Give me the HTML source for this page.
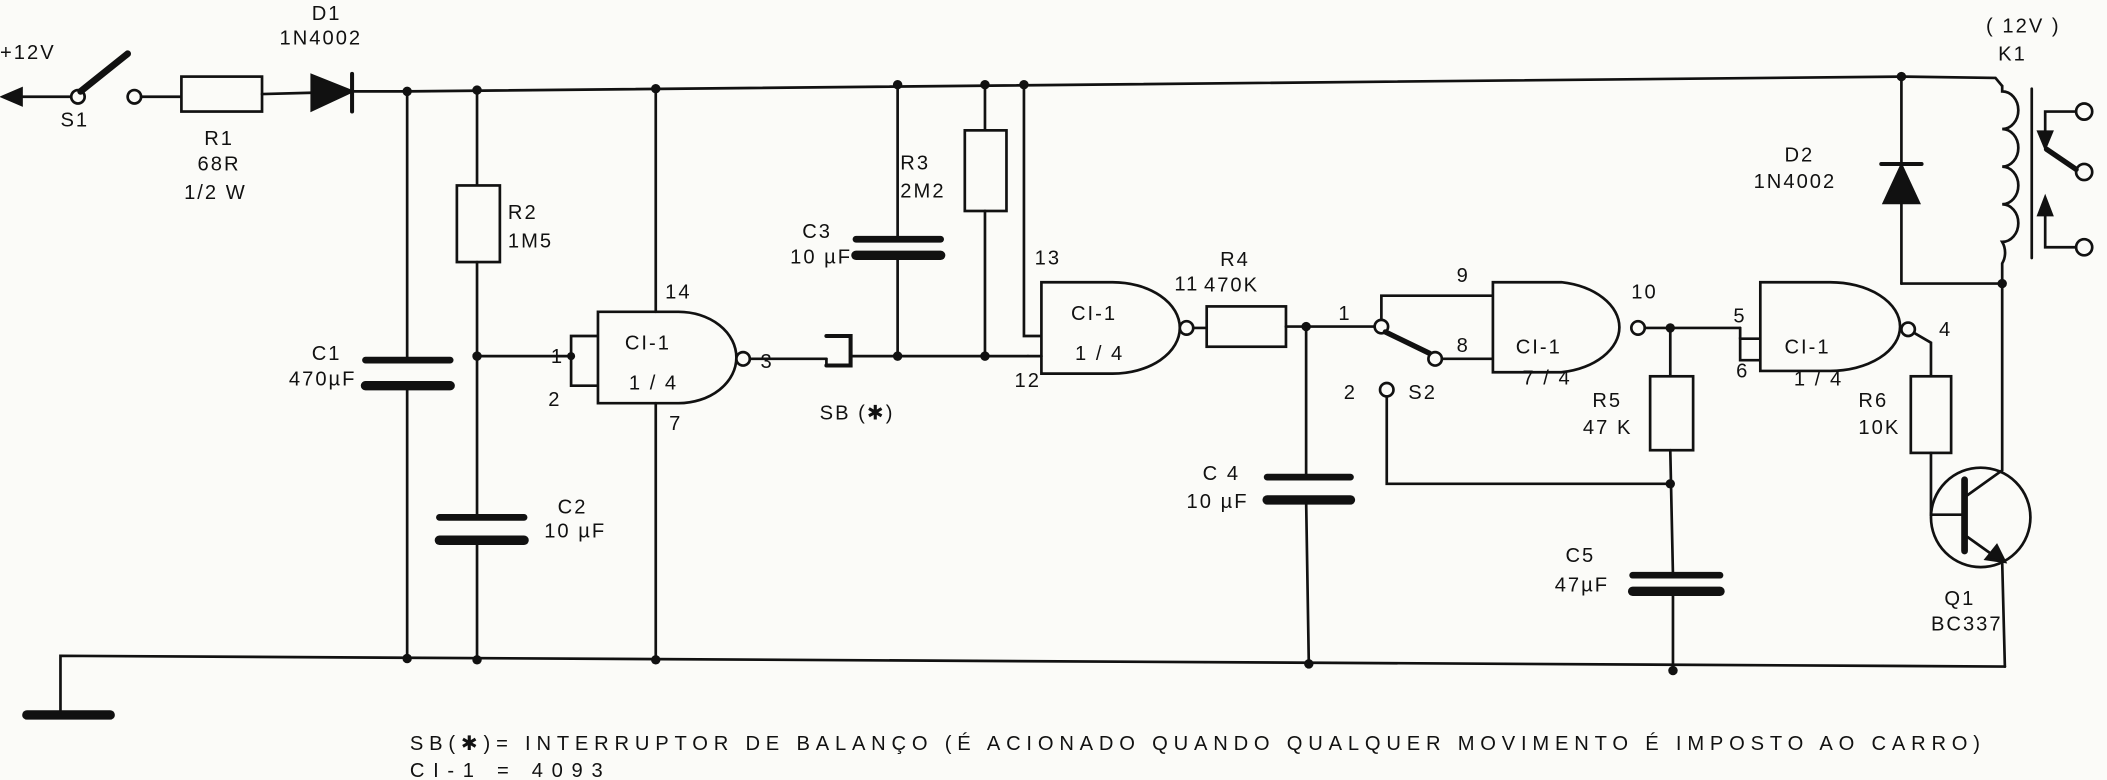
<!DOCTYPE html>
<html><head><meta charset="utf-8"><style>
html,body{margin:0;padding:0;background:#fbfbf8;}
svg{display:block}
text{font-family:"Liberation Sans",sans-serif;fill:#111;font-size:15px;letter-spacing:1.5px}
</style></head><body>
<svg width="2107" height="780" viewBox="0 0 1568 580.4" preserveAspectRatio="none" xmlns="http://www.w3.org/2000/svg">
<rect width="1568" height="581" fill="#fbfbf8"/>
<g stroke="#111" stroke-width="2" fill="none" stroke-linecap="round">
<polyline points="262,68 303,68 1415,57 1485,58 1490,64"/>
<line x1="8" y1="72" x2="54" y2="72"/>
<polygon points="2,72 16,66 16,78" fill="#111"/>
<circle cx="58" cy="72" r="5" fill="#fbfbf8"/>
<line x1="60" y1="68" x2="95" y2="40" stroke-width="5"/>
<circle cx="100" cy="72" r="5" fill="#fbfbf8"/>
<line x1="105" y1="72" x2="135" y2="72"/>
<rect x="135" y="57" width="60" height="26" fill="#fbfbf8"/>
<line x1="195" y1="70" x2="232" y2="69"/>
<polygon points="232,56 262,68 232,82" fill="#111"/>
<line x1="262" y1="55" x2="262" y2="83" stroke-width="3"/>
<line x1="303" y1="68" x2="303" y2="268"/><line x1="303" y1="288" x2="303" y2="490"/>
<line x1="272" y1="268" x2="335" y2="268" stroke-width="5"/>
<line x1="272" y1="287" x2="335" y2="287" stroke-width="7"/>
<line x1="355" y1="67" x2="355" y2="138"/>
<rect x="340" y="138" width="32" height="57" fill="#fbfbf8"/>
<line x1="355" y1="195" x2="355" y2="385"/><line x1="355" y1="402" x2="355" y2="491"/>
<line x1="327" y1="385" x2="390" y2="385" stroke-width="5"/>
<line x1="327" y1="402" x2="390" y2="402" stroke-width="7"/>
<line x1="355" y1="265" x2="425" y2="265"/>
<polyline points="445,250 425,250 425,287 445,287"/>
<path d="M445 232 H505 A43 34 0 0 1 505 300 H445 Z" fill="#fbfbf8"/>
<circle cx="553" cy="267" r="5" fill="#fbfbf8"/>
<line x1="558" y1="267" x2="615" y2="267"/>
<line x1="488" y1="66" x2="488" y2="232"/><line x1="488" y1="300" x2="488" y2="491"/>
<polyline points="615,250 633,250 633,272 615,272" stroke-width="3"/>
<line x1="615" y1="267" x2="615" y2="272"/>
<line x1="633" y1="265" x2="765" y2="265"/>
<line x1="668" y1="63" x2="668" y2="178"/><line x1="668" y1="190" x2="668" y2="265"/>
<line x1="637" y1="178" x2="700" y2="178" stroke-width="5"/>
<line x1="637" y1="190" x2="700" y2="190" stroke-width="7"/>
<line x1="733" y1="63" x2="733" y2="97"/>
<rect x="718" y="97" width="31" height="60" fill="#fbfbf8"/>
<line x1="733" y1="157" x2="733" y2="265"/>
<polyline points="762,63 762,250 775,250"/>
<path d="M775 210 H828 A50 34 0 0 1 828 278 H775 Z" fill="#fbfbf8"/>
<line x1="765" y1="265" x2="775" y2="265"/>
<circle cx="883" cy="244" r="5" fill="#fbfbf8"/>
<line x1="888" y1="244" x2="898" y2="244"/>
<rect x="898" y="228" width="59" height="30" fill="#fbfbf8"/>
<line x1="957" y1="243" x2="1024" y2="243"/>
<line x1="972" y1="243" x2="972" y2="355"/><line x1="972" y1="372" x2="974" y2="494"/>
<line x1="943" y1="355" x2="1005" y2="355" stroke-width="5"/>
<line x1="943" y1="372" x2="1005" y2="372" stroke-width="7"/>
<polyline points="1028,238 1028,220 1111,220"/>
<circle cx="1028" cy="243" r="5" fill="#fbfbf8"/>
<line x1="1031" y1="247" x2="1064" y2="263" stroke-width="4"/>
<circle cx="1068" cy="267" r="5" fill="#fbfbf8"/>
<line x1="1073" y1="267" x2="1111" y2="267"/>
<circle cx="1032" cy="290" r="5" fill="#fbfbf8"/>
<polyline points="1032,295 1032,360 1243,360"/>
<path d="M1111 210 H1162 A52 34 0 0 1 1162 277 H1111 Z" fill="#fbfbf8"/>
<circle cx="1219" cy="244" r="5" fill="#fbfbf8"/>
<line x1="1224" y1="244" x2="1295" y2="244"/>
<line x1="1243" y1="244" x2="1243" y2="280"/>
<rect x="1228" y="280" width="32" height="55" fill="#fbfbf8"/>
<line x1="1243" y1="335" x2="1245" y2="428"/><line x1="1245" y1="440" x2="1245" y2="500"/>
<line x1="1215" y1="428" x2="1280" y2="428" stroke-width="5"/>
<line x1="1215" y1="440" x2="1280" y2="440" stroke-width="7"/>
<polyline points="1310,252 1295,252 1295,268 1310,268"/>
<line x1="1295" y1="244" x2="1295" y2="252"/>
<path d="M1310 210 H1362 A52 33 0 0 1 1362 276 H1310 Z" fill="#fbfbf8"/>
<circle cx="1420" cy="245" r="5" fill="#fbfbf8"/>
<polyline points="1425,248 1437,255 1437,280"/>
<rect x="1422" y="280" width="30" height="57" fill="#fbfbf8"/>
<polyline points="1437,337 1437,383 1462,383"/>
<circle cx="1474" cy="385" r="37"/>
<line x1="1462" y1="357" x2="1462" y2="410" stroke-width="5"/>
<polyline points="1462,370 1490,350 1490,211"/>
<polyline points="1462,398 1490,418 1492,496"/>
<polygon points="1492,418 1478,416 1486,406" fill="#111"/>
<line x1="1415" y1="57" x2="1415" y2="211"/>
<polygon points="1402,151 1428,151 1415,123" fill="#111"/>
<line x1="1400" y1="122" x2="1430" y2="122" stroke-width="3"/>
<line x1="1415" y1="211" x2="1490" y2="211"/>
<path d="M1490 64 V68 A12 14 0 0 1 1490 96 A12 14 0 0 1 1490 124 A12 14 0 0 1 1490 152 A12 14 0 0 1 1490 180 A12 14 0 0 1 1490 196 V211"/>
<line x1="1512" y1="66" x2="1512" y2="192"/>
<circle cx="1551" cy="83" r="6" fill="#fbfbf8"/>
<circle cx="1551" cy="128" r="6" fill="#fbfbf8"/>
<circle cx="1551" cy="184" r="6" fill="#fbfbf8"/>
<polyline points="1545,83 1522,83 1522,103"/>
<polygon points="1517,98 1527,98 1522,110" fill="#111"/>
<line x1="1523" y1="111" x2="1545" y2="126" stroke-width="4"/>
<polyline points="1545,184 1522,184 1522,155"/>
<polygon points="1517,160 1527,160 1522,147" fill="#111"/>
<polyline points="45,530 45,488 1492,496"/>
<line x1="20" y1="532" x2="82" y2="532" stroke-width="7"/>
</g>
<g fill="#111">
<circle cx="303" cy="68" r="3.5"/><circle cx="355" cy="67" r="3.5"/><circle cx="488" cy="66" r="3.5"/>
<circle cx="668" cy="63" r="3.5"/><circle cx="733" cy="63" r="3.5"/><circle cx="762" cy="63" r="3.5"/>
<circle cx="1415" cy="57" r="3.5"/><circle cx="355" cy="265" r="3.5"/><circle cx="425" cy="265" r="3"/>
<circle cx="668" cy="265" r="3.5"/><circle cx="733" cy="265" r="3.5"/><circle cx="972" cy="243" r="3.5"/>
<circle cx="1243" cy="244" r="3.5"/><circle cx="1243" cy="360" r="3.5"/>
<circle cx="1490" cy="211" r="3.5"/><circle cx="303" cy="490" r="3.5"/><circle cx="355" cy="491" r="3.5"/>
<circle cx="488" cy="491" r="3.5"/><circle cx="974" cy="494" r="3.5"/><circle cx="1245" cy="499" r="3.5"/>
</g>
<text x="0" y="44">+12V</text>
<text x="232" y="15">D1</text><text x="208" y="33">1N4002</text>
<text x="45" y="94">S1</text>
<text x="152" y="108">R1</text><text x="147" y="127">68R</text><text x="137" y="148">1/2 W</text>
<text x="378" y="163">R2</text><text x="378" y="184">1M5</text>
<text x="232" y="268">C1</text><text x="215" y="287">470µF</text>
<text x="415" y="382">C2</text><text x="405" y="400">10 µF</text>
<text x="495" y="222">14</text><text x="410" y="270">1</text><text x="408" y="302">2</text>
<text x="566" y="274">3</text><text x="498" y="320">7</text>
<text x="465" y="260" font-size="17">CI-1</text><text x="468" y="290">1 / 4</text>
<text x="610" y="312">SB (✱)</text>
<text x="670" y="126">R3</text><text x="670" y="147">2M2</text>
<text x="597" y="177">C3</text><text x="588" y="196">10 µF</text>
<text x="770" y="197">13</text><text x="755" y="288">12</text><text x="874" y="216">11</text>
<text x="797" y="238" font-size="17">CI-1</text><text x="800" y="268">1 / 4</text>
<text x="908" y="198">R4</text><text x="896" y="217">470K</text>
<text x="996" y="238">1</text><text x="1084" y="210">9</text><text x="1084" y="262">8</text>
<text x="1000" y="297">2</text><text x="1048" y="297">S2</text>
<text x="1128" y="263" font-size="17">CI-1</text><text x="1133" y="286">7 / 4</text>
<text x="1214" y="222">10</text>
<text x="1185" y="303">R5</text><text x="1178" y="323">47 K</text>
<text x="895" y="357">C 4</text><text x="883" y="378">10 µF</text>
<text x="1165" y="418">C5</text><text x="1157" y="440">47µF</text>
<text x="1290" y="240">5</text><text x="1292" y="281">6</text><text x="1443" y="250">4</text>
<text x="1328" y="263" font-size="17">CI-1</text><text x="1335" y="287">1 / 4</text>
<text x="1383" y="303">R6</text><text x="1383" y="323">10K</text>
<text x="1447" y="450">Q1</text><text x="1437" y="469">BC337</text>
<text x="1328" y="120">D2</text><text x="1305" y="140">1N4002</text>
<text x="1478" y="24" font-size="13">( 12V )</text><text x="1487" y="45">K1</text>
<text x="305" y="558" font-size="15" textLength="1170" lengthAdjust="spacing">SB(✱)= INTERRUPTOR  DE  BALANÇO (É  ACIONADO  QUANDO  QUALQUER  MOVIMENTO  É  IMPOSTO AO CARRO)</text>
<text x="305" y="578" font-size="15" textLength="145" lengthAdjust="spacing">CI-1 =  4093</text>
</svg>
</body></html>
